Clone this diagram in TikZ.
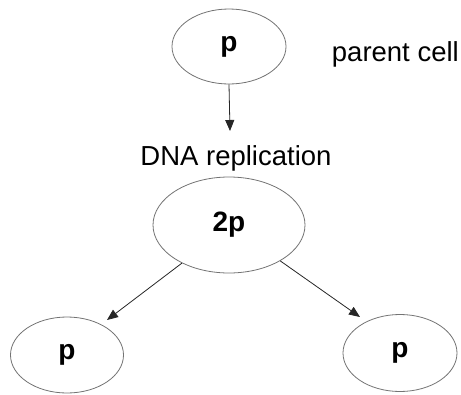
\documentclass[tikz,border=0pt]{standalone}
\usepackage{fontspec}
\setmainfont{Liberation Sans}
\usetikzlibrary{shapes.geometric,arrows.meta}
\begin{document}
\begin{tikzpicture}[x=1pt,y=-1pt,
  cell/.style={ellipse,draw=black!55,line width=0.8pt,inner sep=0pt,
    font=\fontsize{28}{30}\selectfont\bfseries},
  lbl/.style={font=\fontsize{27.5}{30}\selectfont,inner sep=0pt},
  arr/.style={draw=black!85,line width=0.8pt,-{Triangle[length=11pt,width=9pt]}}]
\useasboundingbox (0,0) rectangle (461,394);
\node[cell,minimum width=114pt,minimum height=75pt] (top) at (229,46.5) {p};
\node[cell,minimum width=152pt,minimum height=96pt] (mid) at (229,225) {2p};
\node[cell,minimum width=113pt,minimum height=76pt] (left) at (67,355) {p};
\node[cell,minimum width=114pt,minimum height=77pt] (right) at (400,353) {p};
\node[lbl,anchor=base east] (pc) at (459,61) {parent cell};
\node[lbl,anchor=base] (dna) at (236,165) {DNA replication};
\coordinate (t1) at (230,131);
\coordinate (t2) at (107,320);
\coordinate (t3) at (360,317);
\draw[arr] (top.south) -- (t1);
\draw[arr] (mid.219) -- (t2);
\draw[arr] (mid.325) -- (t3);
\end{tikzpicture}
\end{document}
